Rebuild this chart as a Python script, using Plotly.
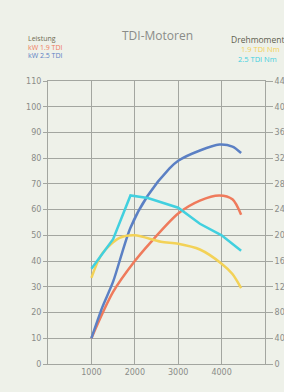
import plotly.graph_objects as go

# Data (rpm vs kW / Nm)
rpm_kw25 = [1000, 1250, 1500, 1900, 2300, 2800, 3000, 3500, 3950, 4250, 4450]
kw_25 = [10, 22, 32, 53, 65.5, 76, 79, 83, 85.3, 84.5, 82]

rpm_kw19 = [1000, 1500, 2000, 2350, 3000, 3500, 3950, 4250, 4450]
kw_19 = [10, 28, 40, 47, 58.5, 63.5, 65.5, 64, 58]

rpm_nm25 = [1000, 1500, 1900, 2300, 3000, 3500, 4000, 4450]
nm_25 = [148, 194, 262, 258, 243, 218, 200, 176]

rpm_nm19 = [1000, 1250, 1650, 2000, 2600, 3000, 3500, 4000, 4250, 4450]
nm_19 = [134, 172, 196, 200, 190, 187, 178, 156, 140, 118]

x_ticks = [1000, 2000, 3000, 4000]
y_ticks_left = list(range(0, 111, 10))
y_ticks_right = list(range(0, 441, 40))

title = "TDI-Motoren"
left_legend = ["Leistung", "kW 1.9 TDI", "kW 2.5 TDI"]
right_legend = ["Drehmoment", "1.9 TDI Nm", "2.5 TDI Nm"]

c_blue = "#5b80c4"
c_orange = "#ef7b5c"
c_cyan = "#41d0df"
c_yellow = "#f3d257"
bg = "#eef1e9"
grid = "#a3a6a0"
txt = "#8a8c88"

fig = go.Figure()
fig.add_trace(go.Scatter(x=rpm_nm19, y=nm_19, yaxis="y2", mode="lines",
                         line=dict(color=c_yellow, width=2.5, shape="spline", smoothing=0.8)))
fig.add_trace(go.Scatter(x=rpm_nm25, y=nm_25, yaxis="y2", mode="lines",
                         line=dict(color=c_cyan, width=2.5)))
fig.add_trace(go.Scatter(x=rpm_kw19, y=kw_19, mode="lines",
                         line=dict(color=c_orange, width=2.5, shape="spline", smoothing=0.8)))
fig.add_trace(go.Scatter(x=rpm_kw25, y=kw_25, mode="lines",
                         line=dict(color=c_blue, width=2.5, shape="spline", smoothing=0.8)))

fnt = dict(family="DejaVu Sans", size=8, color=txt)

fig.update_layout(
    width=284, height=392,
    margin=dict(l=48, r=19, t=81, b=28, autoexpand=False),
    paper_bgcolor=bg, plot_bgcolor=bg,
    showlegend=False,
    font=fnt,
    xaxis=dict(range=[0, 5000], tickvals=x_ticks, ticktext=[str(v) for v in x_ticks],
               showgrid=True, gridcolor=grid, gridwidth=1, zeroline=False,
               showline=True, linecolor=grid, linewidth=1, mirror=True,
               ticks="", tickfont=fnt, automargin=False),
    yaxis=dict(range=[0, 110], tickvals=y_ticks_left, showgrid=True, gridcolor=grid,
               gridwidth=1, zeroline=False, showline=True, linecolor=grid, linewidth=1,
               mirror=True, ticks="outside", ticklen=4, tickcolor=grid, tickfont=fnt,
               automargin=False),
    yaxis2=dict(range=[0, 440], tickvals=y_ticks_right, overlaying="y", side="right",
                showgrid=False, zeroline=False, showline=False,
                ticks="outside", ticklen=7, tickcolor=grid, tickfont=fnt, automargin=False),
)

# convert pixel positions to paper coords
def px(x):
    return (x - 48) / (265 - 48)

def py(y):
    return (364 - y) / (364 - 81)

ann = [dict(text=title, x=px(157), y=py(25), xref="paper", yref="paper",
            showarrow=False, font=dict(family="Open Sans", size=12, color=txt))]
cols_l = ["#6e6d52", c_orange, c_blue]
ys_l = [38, 47, 55.5]
for i, (t, c) in enumerate(zip(left_legend, cols_l)):
    ann.append(dict(text=t, x=px(27), y=py(ys_l[i]), xref="paper", yref="paper",
                    xanchor="left", yanchor="middle", showarrow=False, borderpad=0,
                    font=dict(family="Open Sans", size=7, color=c)))
cols_r = ["#5f5f50", c_yellow, c_cyan]
xs_r = [230, 240, 237]
ys_r = [39, 49, 59]
sz_r = [8.5, 7.5, 7.5]
for i, (t, c) in enumerate(zip(right_legend, cols_r)):
    ann.append(dict(text=t, x=px(xs_r[i]), y=py(ys_r[i]), xref="paper", yref="paper",
                    xanchor="left", yanchor="middle", showarrow=False, borderpad=0,
                    font=dict(family="Open Sans", size=sz_r[i], color=c)))
fig.update_layout(annotations=ann)

fig.write_html("out.html",
               config={"displayModeBar": False},
               post_script="document.body.style.margin='0';document.body.style.overflow='hidden';"
                           "document.body.style.background='" + bg + "';")
